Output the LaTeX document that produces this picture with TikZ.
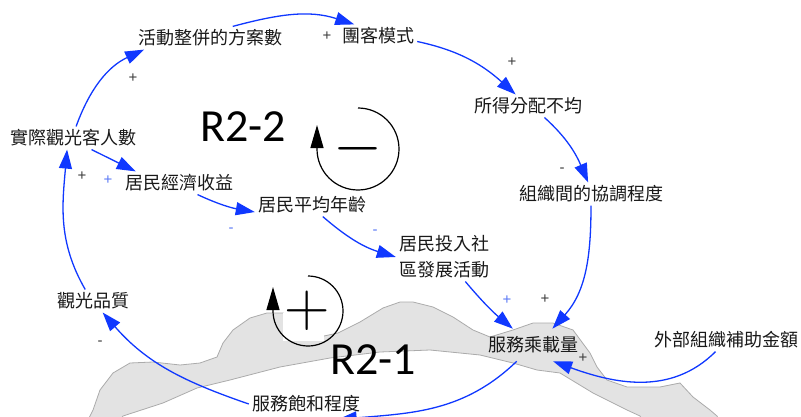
\RequirePackage{fix-cm}
\documentclass[tikz,border=0pt]{standalone}
\usepackage{fontspec}
\setmainfont{Liberation Sans}
\newfontfamily\cjk{Noto Sans CJK TC}
\newfontfamily\loopfont{Carlito}
\usetikzlibrary{arrows.meta}
\definecolor{linkblue}{HTML}{1038FF}
\definecolor{signblue}{HTML}{5A78F5}
\definecolor{signgrey}{HTML}{3C3C3C}
\definecolor{landfill}{HTML}{E3E3E3}
\definecolor{landedge}{HTML}{ABABAB}
\tikzset{
  var/.style={font=\cjk\fontsize{18}{26}\selectfont,inner sep=3pt,align=center,text=black!90},
  link/.style={-{Triangle[length=19pt,width=13pt]},line width=1.3pt,draw=linkblue},
  pol/.style={font=\fontsize{15}{15}\selectfont,inner sep=0pt,text=signgrey},
  polb/.style={pol,text=signblue},
  loopname/.style={font=\loopfont\fontsize{46}{46}\selectfont,inner sep=0pt},
  loopsign/.style={font=\fontsize{63}{63}\selectfont,inner sep=0pt},
  looparc/.style={line width=1.2pt,-{Triangle[length=23pt,width=13pt]}}
}

\begin{document}
\begin{tikzpicture}[x=1pt,y=1pt]
  \useasboundingbox (0,0) rectangle (801,416);
  % land silhouette behind the lower loop
  \filldraw[fill=landfill,draw=landedge,line width=0.8pt]
    (88,-4) -- (93,6) -- (100,26) -- (113,43) -- (130,53) -- (153,54) -- (180,51)
    -- (200,53) -- (217,59) -- (223,73) -- (233,86) -- (250,98) -- (267,103)
    -- (283,103) -- (324,80) -- (338,83) -- (360,94) -- (383,108) -- (400,114)
    -- (413,114) -- (433,109) -- (453,99) -- (473,86) -- (490,79) -- (513,86)
    -- (533,93) -- (553,93) -- (573,86) -- (590,63) -- (597,49) -- (607,36)
    -- (627,29) -- (660,29) -- (680,33) -- (693,19) -- (710,6) -- (717,0) -- (719,-4)
    -- (642,-4) -- (640,0) -- (627,6) -- (593,23) -- (560,43) -- (537,46)
    -- (513,53) -- (480,61) -- (430,66) -- (380,64) -- (330,58) -- (280,49)
    -- (230,36) -- (197,28) -- (163,13) -- (123,0) -- (120,-4) -- cycle;
  \fill[white] (283,75) rectangle (324,103);

  % variables
  \node[var] (act) at (210,378) {活動整併的方案數};
  \node[var] (tour) at (378,380) {團客模式};
  \node[var] (ineq) at (528,310) {所得分配不均};
  \node[var] (coord) at (591,222) {組織間的協調程度};
  \node[var] (visit) at (73,278) {實際觀光客人數};
  \node[var] (income) at (179,233) {居民經濟收益};
  \node[var] (age) at (312,211) {居民平均年齡};
  \node[var] (invest) at (444,159) {居民投入社\\區發展活動};
  \node[var] (quality) at (93,115) {觀光品質};
  \node[var,outer sep=5pt] (cap) at (533,71) {服務乘載量};
  \node[var] (grant) at (726,76) {外部組織補助金額};
  \node[var] (sat) at (306,12) {服務飽和程度};

  % loops
  \node[loopname] (loopA) at (243,289) {R2-2};
  \node[loopname] (loopB) at (373,56) {R2-1};
  \node[loopsign] (sigA) at (358,267) {$-$};
  \node[loopsign] (sigB) at (307,105) {$+$};
  \draw[looparc] ([yshift=41pt]sigA.center) arc[start angle=90,end angle=-180,radius=41pt] -- ++(0,24pt);
  \draw[looparc] ([xshift=1pt,yshift=35pt]sigB.center) arc[start angle=90,end angle=-180,radius=35pt] -- ++(0,24pt);

  % links
  \draw[link] (visit.75) to[out=70,in=205] (act.190);
  \draw[link] (act.27) to[out=15,in=162] (tour.154);
  \draw[link] (tour.352) to[out=-12,in=138] (ineq.137);
  \draw[link] (ineq.325) to[out=-42,in=113] (coord.104);
  \draw[link] (coord.270) to[out=-90,in=48] (cap.40);
  \draw[link] (invest.311) to[bend right=5] (cap.141);
  \draw[link] (grant.228) to[out=225,in=340] (cap.321);
  \draw[link] (cap.225) to[out=224,in=5] ([yshift=-4pt]sat.340);
  \draw[link] (sat.west) to[out=161,in=311] (quality.310);
  \draw[link] (quality.124) to[out=120,in=265] (visit.243);
  \draw[link] (visit.328) -- (income.165);
  \draw[link] (income.328) to[out=-25,in=170] (age.187);
  \draw[link] (age.313) to[out=-41,in=163] (invest.west);

  % polarities
  \node[pol] (p1) at (133,338) {+};
  \node[pol] (p2) at (327,380) {+};
  \node[pol] (p3) at (512,354) {+};
  \node[pol] (p4) at (562,246) {-};
  \node[pol] (p5) at (545,117) {+};
  \node[polb] (p6) at (507,116) {+};
  \node[pol] (p7) at (583,58) {+};
  \node[pol] (p9) at (100,73) {-};
  \node[pol] (p10) at (82,240) {+};
  \node[polb] (p11) at (108,236) {+};
  \node[polb] (p12) at (231,186) {-};
  \node[polb] (p13) at (375,184) {-};
\end{tikzpicture}
\end{document}
